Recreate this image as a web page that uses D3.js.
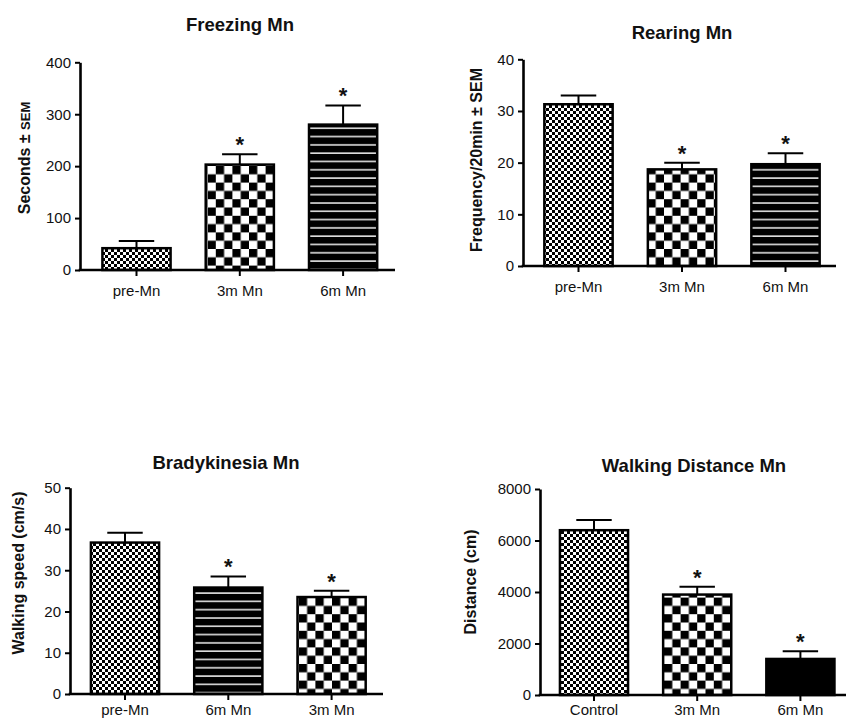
<html>
<head>
<script src="https://d3js.org/d3.v7.min.js"></script>
<style>
    html, body { margin: 0; padding: 0; background: white; }
    text { font-family: "Liberation Sans", Arial, sans-serif; fill: #111; }
</style>
</head>
<body>
<script>
    // data
    var freezingCats = ["pre-Mn", "3m Mn", "6m Mn"];
    var freezingMeans = [42, 203, 280];
    var freezingSEM = [14, 20, 37];
    var freezingSig = [false, true, true];
    var freezingFills = ["fine", "coarse", "stripes"];
    var freezingTicks = [0, 100, 200, 300, 400];

    var rearingCats = ["pre-Mn", "3m Mn", "6m Mn"];
    var rearingMeans = [31.3, 18.7, 19.7];
    var rearingSEM = [1.7, 1.3, 2.1];
    var rearingSig = [false, true, true];
    var rearingFills = ["fine", "coarse", "stripes"];
    var rearingTicks = [0, 10, 20, 30, 40];

    var bradyCats = ["pre-Mn", "6m Mn", "3m Mn"];
    var bradyMeans = [36.7, 25.8, 23.5];
    var bradySEM = [2.4, 2.7, 1.5];
    var bradySig = [false, true, true];
    var bradyFills = ["fine", "stripes", "coarse"];
    var bradyTicks = [0, 10, 20, 30, 40, 50];

    var distCats = ["Control", "3m Mn", "6m Mn"];
    var distMeans = [6400, 3900, 1400];
    var distSEM = [400, 300, 300];
    var distSig = [false, true, true];
    var distFills = ["fine", "coarse", "solid"];
    var distTicks = [0, 2000, 4000, 6000, 8000];

    var svg = d3.select("body").append("svg")
        .attr("width", 846)
        .attr("height", 722);

    // patterns
    var defs = svg.append("defs");
    var fine = defs.append("pattern").attr("id", "fine")
        .attr("patternUnits", "userSpaceOnUse").attr("width", 6).attr("height", 6);
    fine.append("rect").attr("width", 6).attr("height", 6).attr("fill", "white");
    fine.append("rect").attr("width", 3).attr("height", 3).attr("fill", "black");
    fine.append("rect").attr("x", 3).attr("y", 3).attr("width", 3).attr("height", 3).attr("fill", "black");

    var coarse = defs.append("pattern").attr("id", "coarse")
        .attr("patternUnits", "userSpaceOnUse").attr("width", 16.6).attr("height", 16.6);
    coarse.append("rect").attr("width", 16.6).attr("height", 16.6).attr("fill", "white");
    coarse.append("rect").attr("width", 8.3).attr("height", 8.3).attr("fill", "black");
    coarse.append("rect").attr("x", 8.3).attr("y", 8.3).attr("width", 8.3).attr("height", 8.3).attr("fill", "black");

    var stripes = defs.append("pattern").attr("id", "stripes")
        .attr("patternUnits", "userSpaceOnUse").attr("width", 10).attr("height", 8.3);
    stripes.append("rect").attr("width", 10).attr("height", 8.3).attr("fill", "black");
    stripes.append("rect").attr("y", 3).attr("width", 10).attr("height", 1.6).attr("fill", "#e0e0e0");

    var fillFor = function (f) { return f == "solid" ? "black" : "url(#" + f + ")"; };

    function drawChart(opt) {
        var g = svg.append("g");
        var n = opt.cats.length;
        var x = d3.scaleBand()
            .domain(opt.cats)
            .range([opt.c0 - opt.step / 2, opt.c0 + opt.step * (n - 0.5)])
            .paddingInner(0.34)
            .paddingOuter(0.17);
        var y = d3.scaleLinear()
            .domain([0, opt.ticks[opt.ticks.length - 1]])
            .range([opt.yZero, opt.yTop]);

        var bw = x.bandwidth();

        // bars
        g.selectAll("rect.bar").data(opt.means).enter().append("rect")
            .attr("class", "bar")
            .attr("x", function (d, i) { return x(opt.cats[i]); })
            .attr("y", function (d) { return y(d); })
            .attr("width", bw)
            .attr("height", function (d) { return y(0) - y(d); })
            .attr("fill", function (d, i) { return fillFor(opt.fills[i]); })
            .attr("stroke", "black")
            .attr("stroke-width", 2.5);

        // error bars
        g.selectAll("line.err").data(opt.means).enter().append("line")
            .attr("x1", function (d, i) { return x(opt.cats[i]) + bw / 2; })
            .attr("x2", function (d, i) { return x(opt.cats[i]) + bw / 2; })
            .attr("y1", function (d) { return y(d); })
            .attr("y2", function (d, i) { return y(d + opt.sem[i]); })
            .attr("stroke", "black").attr("stroke-width", 2);
        g.selectAll("line.cap").data(opt.means).enter().append("line")
            .attr("x1", function (d, i) { return x(opt.cats[i]) + bw * 0.24; })
            .attr("x2", function (d, i) { return x(opt.cats[i]) + bw * 0.76; })
            .attr("y1", function (d, i) { return y(d + opt.sem[i]); })
            .attr("y2", function (d, i) { return y(d + opt.sem[i]); })
            .attr("stroke", "black").attr("stroke-width", 2);

        // stars
        g.selectAll("text.star").data(opt.means).enter()
            .filter(function (d, i) { return opt.sig[i]; })
            .append("text")
            .attr("x", function (d) { var i = opt.means.indexOf(d); return x(opt.cats[i]) + bw / 2; })
            .attr("y", function (d) { var i = opt.means.indexOf(d); return y(d + opt.sem[i]) - 2; })
            .attr("text-anchor", "middle")
            .style("font-size", "22px").style("font-weight", "bold")
            .text("*");

        // y axis
        var ya = g.append("g")
            .attr("transform", "translate(" + opt.x0 + ",0)")
            .call(d3.axisLeft(y).tickValues(opt.ticks).tickFormat(d3.format("d"))
                .tickSize(5).tickSizeOuter(0).tickPadding(4));
        ya.select(".domain").attr("stroke-width", 2.6);
        ya.selectAll(".tick line").attr("stroke-width", 2);
        ya.selectAll(".tick text").style("font-size", "15px").style("font-family", "Liberation Sans, Arial").attr("fill", "#222");

        // x axis
        var xa = g.append("g")
            .attr("transform", "translate(0," + opt.yZero + ")")
            .call(d3.axisBottom(x).tickSize(6).tickSizeOuter(0).tickPadding(opt.xPad));
        xa.select(".domain").remove();
        xa.append("line").attr("x1", opt.x0 - 1.3).attr("x2", opt.xEnd)
            .attr("stroke", "black").attr("stroke-width", 2.6);
        xa.selectAll(".tick line").attr("stroke-width", 2);
        xa.selectAll(".tick text").style("font-size", "15px").style("font-family", "Liberation Sans, Arial").attr("fill", "#222");

        // title
        g.append("text")
            .attr("x", opt.titleX).attr("y", opt.titleY)
            .attr("text-anchor", "middle")
            .style("font-size", "18.5px").style("font-weight", "bold")
            .text(opt.title);

        // y label
        var yl = g.append("text")
            .attr("transform", "translate(" + opt.labX + "," + opt.labY + ") rotate(-90)")
            .attr("text-anchor", "middle")
            .attr("dy", "0.35em")
            .style("font-size", "16px").style("font-weight", "bold");
        yl.append("tspan").text(opt.ylabel);
        if (opt.ylabel2) yl.append("tspan").style("font-size", "13px").text(opt.ylabel2);
    }

    drawChart({ cats: freezingCats, means: freezingMeans, sem: freezingSEM, sig: freezingSig, fills: freezingFills, ticks: freezingTicks,
        x0: 80, xEnd: 395, c0: 136.5, step: 103.3, yZero: 270, yTop: 62.3, xPad: 9,
        title: "Freezing Mn", titleX: 240, titleY: 31, ylabel: "Seconds \u00b1 ", ylabel2: "SEM", labX: 24, labY: 158 });

    drawChart({ cats: rearingCats, means: rearingMeans, sem: rearingSEM, sig: rearingSig, fills: rearingFills, ticks: rearingTicks,
        x0: 523, xEnd: 836, c0: 578.5, step: 103.5, yZero: 266, yTop: 59.3, xPad: 9,
        title: "Rearing Mn", titleX: 682, titleY: 39, ylabel: "Frequency/20min \u00b1 SEM", labX: 476, labY: 160 });

    drawChart({ cats: bradyCats, means: bradyMeans, sem: bradySEM, sig: bradySig, fills: bradyFills, ticks: bradyTicks,
        x0: 70, xEnd: 383, c0: 125, step: 103.3, yZero: 694, yTop: 487.7, xPad: 4,
        title: "Bradykinesia Mn", titleX: 226, titleY: 469, ylabel: "Walking speed (cm/s)", labX: 18, labY: 573 });

    drawChart({ cats: distCats, means: distMeans, sem: distSEM, sig: distSig, fills: distFills, ticks: distTicks,
        x0: 540, xEnd: 846, c0: 594, step: 103.2, yZero: 695, yTop: 489, xPad: 3,
        title: "Walking Distance Mn", titleX: 694, titleY: 472, ylabel: "Distance (cm)", labX: 470, labY: 582 });
</script>
</body>
</html>
